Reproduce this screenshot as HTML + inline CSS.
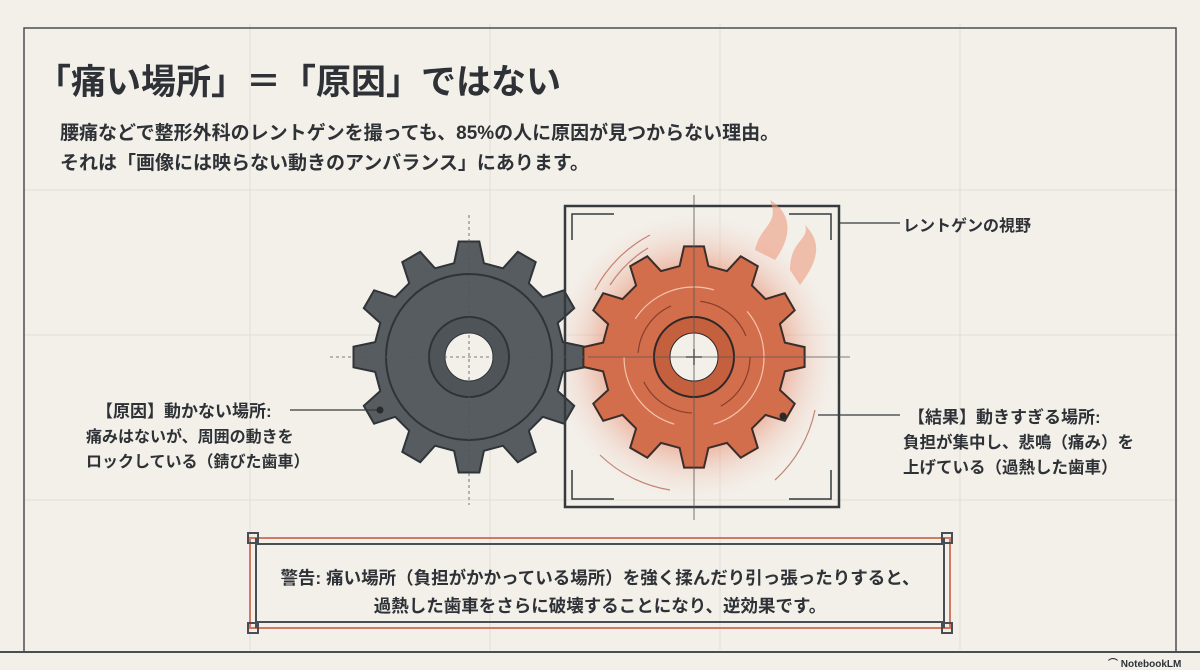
<!DOCTYPE html>
<html><head><meta charset="utf-8"><style>
html,body{margin:0;padding:0}
body{width:1200px;height:670px;background:#f3f0ea;position:relative;overflow:hidden;font-family:"Liberation Sans","Noto Sans CJK JP",sans-serif;color:#2e3236}
.t{position:absolute;white-space:nowrap;font-weight:bold}
</style></head><body>
<svg width="1200" height="670" style="position:absolute;left:0;top:0">
<defs>
<radialGradient id="glow" cx="0.5" cy="0.5" r="0.5">
<stop offset="0.6" stop-color="#e88a6c" stop-opacity="0.55"/>
<stop offset="1" stop-color="#f3f0ea" stop-opacity="0"/>
</radialGradient>
</defs>
<g stroke="#e2ded6" stroke-width="1">
<line x1="250" y1="24" x2="250" y2="650"/><line x1="490" y1="24" x2="490" y2="650"/>
<line x1="720" y1="24" x2="720" y2="650"/><line x1="960" y1="24" x2="960" y2="650"/>
<line x1="24" y1="190" x2="1178" y2="190"/><line x1="24" y1="335" x2="1178" y2="335"/><line x1="24" y1="500" x2="1178" y2="500"/>
</g>
<rect x="24" y="28" width="1152" height="624" fill="none" stroke="#4a4e52" stroke-width="1.5"/>
<line x1="0" y1="652" x2="1200" y2="652" stroke="#4a4e52" stroke-width="2"/>
<circle cx="694" cy="357" r="150" fill="url(#glow)"/>
<g id="gears"></g>
<rect x="565" y="206" width="274" height="301" fill="none" stroke="#343a3e" stroke-width="2.5"/>
<g stroke="#343a3e" stroke-width="1.5" fill="none">
<path d="M572 240 V214 H614"/><path d="M789 214 H831 V240"/>
<path d="M572 470 V499 H614"/><path d="M789 499 H831 V470"/>
</g>
<g stroke="#555" stroke-width="0.8">
<line x1="330" y1="357" x2="590" y2="357" stroke-dasharray="3 3"/>
<line x1="469" y1="215" x2="469" y2="505" stroke-dasharray="3 3"/>
<line x1="590" y1="357" x2="850" y2="357"/>
<line x1="694" y1="195" x2="694" y2="520"/>
<line x1="686" y1="357" x2="702" y2="357" stroke-width="1.5"/><line x1="694" y1="349" x2="694" y2="365" stroke-width="1.5"/>
</g>
<g stroke="#343a3e" stroke-width="1.2">
<line x1="839" y1="223" x2="900" y2="223"/>
<line x1="290" y1="410" x2="380" y2="410"/>
<line x1="818" y1="415" x2="900" y2="415"/>
</g>
<circle cx="380" cy="410" r="3.5" fill="#2a2a2a"/>
<circle cx="783" cy="416" r="3.5" fill="#2a2a2a"/>
<g fill="none" stroke="#b86a55" stroke-width="1.2" opacity="0.8">
<path d="M595 290 A130 130 0 0 1 650 235"/>
<path d="M610 285 A120 120 0 0 1 648 248"/>
<path d="M600 455 A130 130 0 0 0 670 490"/>
<path d="M815 410 A130 130 0 0 1 775 480"/>
</g>
<g fill="#ee9e82" opacity="0.6">
<path d="M755 250 C760 225 780 225 770 200 C795 215 790 240 775 260Z"/>
<path d="M790 270 C790 240 810 240 805 225 C825 245 815 265 800 285Z"/>
</g>
<g fill="none">
<rect x="250" y="538" width="700" height="90" stroke="#d07a64" stroke-width="2"/>
<line x1="256" y1="544" x2="944" y2="544" stroke="#4a4e52" stroke-width="2"/>
<line x1="256" y1="622" x2="944" y2="622" stroke="#4a4e52" stroke-width="2"/>
<line x1="256" y1="538" x2="256" y2="628" stroke="#4a4e52" stroke-width="2"/>
<line x1="944" y1="538" x2="944" y2="628" stroke="#4a4e52" stroke-width="2"/>
<g stroke="#4a4e52" stroke-width="2">
<rect x="248" y="533" width="10" height="10"/><rect x="942" y="533" width="10" height="10"/>
<rect x="248" y="623" width="10" height="10"/><rect x="942" y="623" width="10" height="10"/>
</g>
</g>
</svg>
<div class="t" style="left:36px;top:54px;font-size:35px">「痛い場所」＝「原因」ではない</div>
<div class="t" style="left:60px;top:118px;font-size:19px">腰痛などで整形外科のレントゲンを撮っても、85%の人に原因が見つからない理由。</div>
<div class="t" style="left:60px;top:148px;font-size:19px">それは「画像には映らない動きのアンバランス」にあります。</div>
<div class="t" style="left:903px;top:212px;font-size:16px">レントゲンの視野</div>
<div class="t" style="left:96px;top:397px;font-size:17px">【原因】動かない場所:</div>
<div class="t" style="left:86px;top:425px;font-size:16px;line-height:25px">痛みはないが、周囲の動きを<br>ロックしている（錆びた歯車）</div>
<div class="t" style="left:908px;top:403px;font-size:17px">【結果】動きすぎる場所:</div>
<div class="t" style="left:903px;top:431px;font-size:16.5px;line-height:25px">負担が集中し、悲鳴（痛み）を<br>上げている（過熱した歯車）</div>
<div class="t" style="left:250px;top:564px;width:700px;text-align:center;font-size:17.5px;line-height:28px">警告: 痛い場所（負担がかかっている場所）を強く揉んだり引っ張ったりすると、<br>過熱した歯車をさらに破壊することになり、逆効果です。</div>
<div class="t" style="left:1108px;top:655px;font-size:10px">⌒ NotebookLM</div>
<script>
function gear(cx,cy,ro,ri,n,rot){var p=[];for(var i=0;i<n;i++){var a=rot+i*2*Math.PI/n,s=2*Math.PI/n;
var pts=[[ri,a-s*0.3],[ro,a-s*0.17],[ro,a+s*0.17],[ri,a+s*0.3]];
pts.forEach(function(q){p.push((cx+q[0]*Math.cos(q[1])).toFixed(1)+","+(cy+q[0]*Math.sin(q[1])).toFixed(1))});}
return p.join(" ");}
var g=document.getElementById("gears");
g.innerHTML=
'<polygon points="'+gear(469,357,116,95,12,-Math.PI/2)+'" fill="#565c60" stroke="#2f3438" stroke-width="2"/>'+
'<circle cx="469" cy="357" r="83" fill="none" stroke="#2f3438" stroke-width="2"/>'+
'<circle cx="469" cy="357" r="40" fill="#4e5458" stroke="#2f3438" stroke-width="2"/>'+
'<circle cx="469" cy="357" r="24" fill="#f3f0ea" stroke="#2f3438" stroke-width="1"/>'+
'<polygon points="'+gear(694,357,111,92,12,-Math.PI/2)+'" fill="#d36e4c" stroke="#3a2e2a" stroke-width="2"/>'+
'<circle cx="694" cy="357" r="70" fill="none" stroke="#f3c4ae" stroke-width="1.2" stroke-dasharray="90 40"/>'+
'<circle cx="694" cy="357" r="56" fill="none" stroke="#8a3e28" stroke-width="1.2" stroke-dasharray="60 30"/>'+
'<circle cx="694" cy="357" r="40" fill="#c5603f" stroke="#2f2826" stroke-width="2"/>'+
'<circle cx="694" cy="357" r="24" fill="#f3f0ea" stroke="#2f2826" stroke-width="1"/>';
</script>
</body></html>
